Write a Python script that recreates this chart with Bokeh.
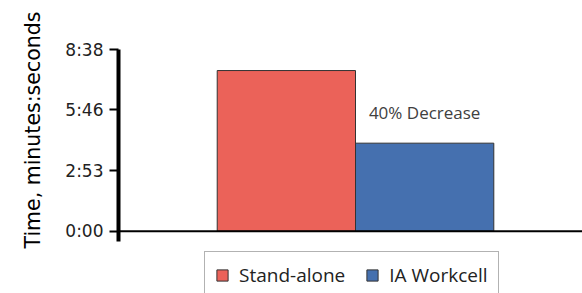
from bokeh.plotting import figure
from bokeh.models import Range1d, FixedTicker, Span, Label, Legend, LegendItem, ColumnDataSource, Title
from bokeh.embed import file_html
from bokeh.resources import INLINE

# ---- data ----
series_names = ["Stand-alone", "IA Workcell"]
times_seconds = [458, 251]
bar_colors = ["#EB6259", "#4570AF"]
tick_labels = ["0:00", "2:53", "5:46", "8:38"]
y_label = "Time, minutes:seconds"
annotation_text = "40% Decrease"


def to_sec(s):
    m, ss = s.split(":")
    return int(m) * 60 + int(ss)


tick_values = [to_sec(t) for t in tick_labels]
y_top = tick_values[-1]
axis_floor = -29.4     # y axis line runs a little below zero
view_floor = -177.6    # room below the axis for the legend

p = figure(width=582, height=293, output_backend="svg", toolbar_location=None,
           x_range=Range1d(-1.2137, 2.1413), y_range=Range1d(view_floor, y_top),
           min_border_left=118, min_border_right=0, min_border_top=49, min_border_bottom=0)
p.title.visible = False
p.outline_line_color = None
p.xgrid.visible = False
p.ygrid.visible = False
p.xaxis.visible = False

ax = p.yaxis[0]
ax.bounds = (axis_floor, y_top)
ax.ticker = FixedTicker(ticks=tick_values)
ax.major_label_overrides = {v: l for v, l in zip(tick_values, tick_labels)}
ax.axis_line_width = 4
ax.axis_line_color = "black"
ax.major_tick_line_width = 2
ax.major_tick_line_color = "black"
ax.major_tick_out = 9
ax.major_tick_in = 0
ax.minor_tick_out = 0
ax.minor_tick_in = 0
ax.major_label_text_font = "DejaVu Sans"
ax.major_label_text_font_size = "17px"
ax.major_label_text_color = "#222222"
ax.major_label_standoff = 6

items = []
for i, (name, val, col) in enumerate(zip(series_names, times_seconds, bar_colors)):
    src = ColumnDataSource(dict(x=[i], top=[val]))
    r = p.vbar(x="x", top="top", bottom=0, width=1, source=src,
               fill_color=col, line_color="#333333", line_width=1)
    items.append(LegendItem(label=name, renderers=[r]))

p.add_layout(Span(location=0, dimension="width", line_color="black", line_width=2))

p.add_layout(Label(x=1, y=times_seconds[1], y_offset=31, text=annotation_text,
                   text_align="center", text_baseline="middle",
                   text_font="Open Sans", text_font_size="17px", text_color="#404040"))

p.add_layout(Title(text=y_label, align="left", offset=45, standoff=36,
                   text_font="DejaVu Sans", text_font_size="20.5px",
                   text_font_style="normal", text_color="black"), "left")

legend = Legend(items=items, orientation="horizontal", location=(86, -6),
                label_text_font="Open Sans", label_text_font_size="19px",
                label_text_color="#222222", glyph_width=14, glyph_height=14,
                label_standoff=10, spacing=20, padding=10, margin=0,
                border_line_color="#666666", border_line_width=1,
                background_fill_alpha=1)
p.add_layout(legend)

open("out.html", "w").write(file_html(p, INLINE))
